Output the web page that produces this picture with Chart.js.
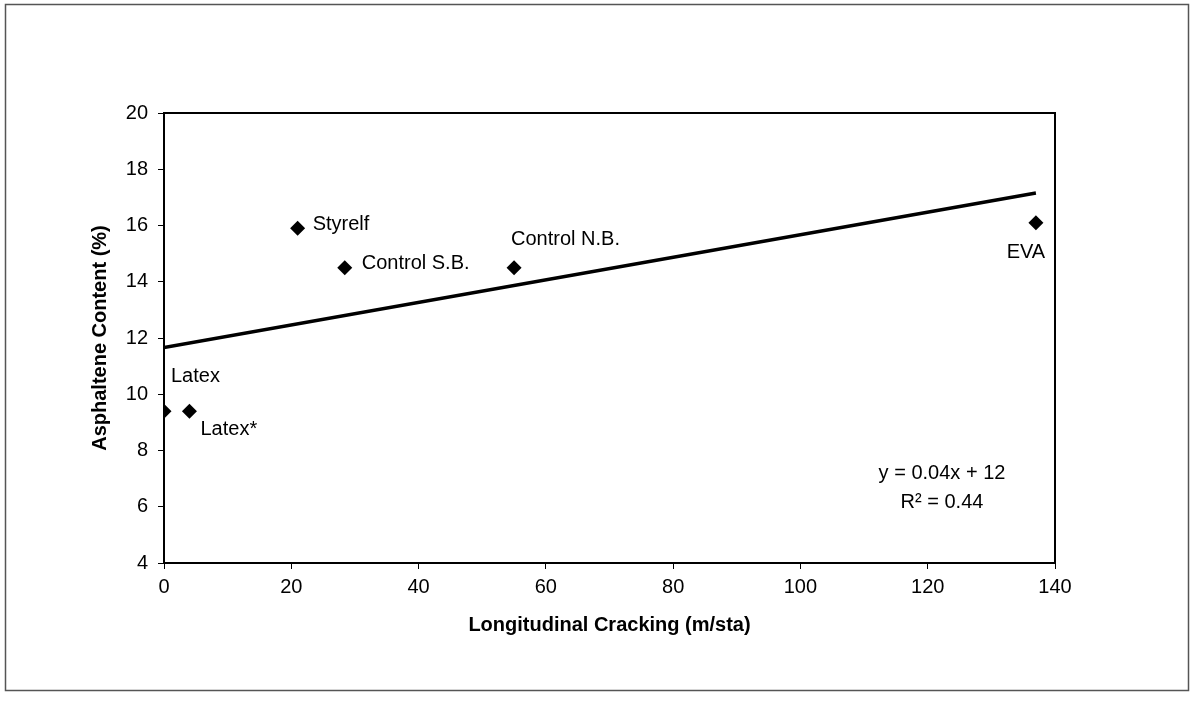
<!DOCTYPE html>
<html lang="en">
<head>
  <meta charset="UTF-8">
  <title>Asphaltene content vs longitudinal cracking</title>
  <style>
    html, body { margin: 0; padding: 0; background: #fff; }
    #wrap { width: 1194px; height: 704px; position: relative; }
  </style>
</head>
<body>
<div id="wrap"><canvas id="myChart" width="1194" height="704"></canvas></div>
<script src="https://cdn.jsdelivr.net/npm/chart.js"></script>
<script>
  // section names and measurements
  const sections = ['Latex', 'Latex*', 'Styrelf', 'Control S.B.', 'Control N.B.', 'EVA'];
  const cracking = [0, 4, 21, 28.4, 55, 137];          // m/sta
  const asphaltene = [9.4, 9.4, 15.9, 14.5, 14.5, 16.1]; // %
  const xTicks = [0, 20, 40, 60, 80, 100, 120, 140];
  const yTicks = [4, 6, 8, 10, 12, 14, 16, 18, 20];

  // where each section name sits relative to its marker
  const labelPos = [
    { dx: 7, dy: -35, align: 'left' },
    { dx: 11, dy: 18, align: 'left' },
    { dx: 15, dy: -4, align: 'left' },
    { dx: 17, dy: -4, align: 'left' },
    { dx: -3, dy: -28, align: 'left' },
    { dx: -10, dy: 30, align: 'center' }
  ];

  // least squares fit, same as the spreadsheet trendline
  const n = cracking.length;
  const mx = cracking.reduce((a, b) => a + b, 0) / n;
  const my = asphaltene.reduce((a, b) => a + b, 0) / n;
  let sxy = 0, sxx = 0, syy = 0;
  for (let i = 0; i < n; i++) {
    sxy += (cracking[i] - mx) * (asphaltene[i] - my);
    sxx += (cracking[i] - mx) ** 2;
    syy += (asphaltene[i] - my) ** 2;
  }
  const slope = sxy / sxx;
  const intercept = my - slope * mx;
  const r2 = (sxy * sxy) / (sxx * syy);
  const xMin = Math.min(...cracking), xMax = Math.max(...cracking);
  const trend = [
    { x: xMin, y: intercept + slope * xMin },
    { x: xMax, y: intercept + slope * xMax }
  ];

  const FONT = "'Liberation Sans', Arial, sans-serif";

  const decorations = {
    id: 'decorations',
    beforeDraw(chart) {
      const ctx = chart.ctx;
      ctx.save();
      ctx.fillStyle = '#fff';
      ctx.fillRect(0, 0, chart.width, chart.height);
      // outer frame
      ctx.strokeStyle = '#555';
      ctx.lineWidth = 1.5;
      ctx.strokeRect(5.5, 4.5, 1183, 686);
      ctx.restore();
    },
    afterDatasetsDraw(chart) {
      const ctx = chart.ctx;
      const a = chart.chartArea;
      const xs = chart.scales.x, ys = chart.scales.y;
      ctx.save();
      // plot box
      ctx.strokeStyle = '#000';
      ctx.lineWidth = 2;
      ctx.strokeRect(a.left, a.top, a.right - a.left, a.bottom - a.top);

      // section labels
      ctx.fillStyle = '#000';
      ctx.font = '20px ' + FONT;
      ctx.textBaseline = 'middle';
      sections.forEach((name, i) => {
        const px = xs.getPixelForValue(cracking[i]);
        const py = ys.getPixelForValue(asphaltene[i]);
        const p = labelPos[i];
        ctx.textAlign = p.align;
        ctx.fillText(name, px + p.dx, py + p.dy);
      });

      // trendline equation
      ctx.textAlign = 'center';
      ctx.fillText('y = ' + slope.toFixed(2) + 'x + ' + intercept.toFixed(0), 942, 473);
      ctx.fillText('R\u00B2 = ' + r2.toFixed(2), 942, 502);
      ctx.restore();
    }
  };

  const config = {
    type: 'scatter',
    data: {
      datasets: [
        {
          label: 'Asphaltene',
          data: cracking.map((x, i) => ({ x: x, y: asphaltene[i] })),
          pointStyle: 'rectRot',
          pointRadius: 7.5,
          backgroundColor: '#000',
          borderColor: '#000',
          borderWidth: 0,
          order: 1
        },
        {
          type: 'line',
          label: 'Linear',
          data: trend,
          borderColor: '#000',
          borderWidth: 3.5,
          pointRadius: 0,
          fill: false,
          order: 2
        }
      ]
    },
    options: {
      responsive: false,
      animation: false,
      layout: { padding: { top: 113, right: 139, bottom: 51, left: 0 } },
      plugins: { legend: { display: false }, tooltip: { enabled: false } },
      scales: {
        x: {
          type: 'linear',
          min: xTicks[0],
          max: xTicks[xTicks.length - 1],
          afterBuildTicks: s => { s.ticks = xTicks.map(v => ({ value: v })); },
          afterFit: s => { s.height = 90; },
          grid: { drawOnChartArea: false, drawTicks: true, tickLength: 6, color: '#000', lineWidth: 1 },
          border: { display: true, color: '#000', width: 2 },
          ticks: { color: '#000', padding: 6, font: { family: FONT, size: 20 } },
          title: {
            display: true,
            text: 'Longitudinal Cracking (m/sta)',
            color: '#000',
            font: { family: FONT, size: 20, weight: 'bold' },
            padding: { top: 0, bottom: 16 }
          }
        },
        y: {
          type: 'linear',
          min: yTicks[0],
          max: yTicks[yTicks.length - 1],
          afterBuildTicks: s => { s.ticks = yTicks.map(v => ({ value: v })); },
          afterFit: s => { s.width = 164; },
          grid: { drawOnChartArea: false, drawTicks: true, tickLength: 6, color: '#000', lineWidth: 1 },
          border: { display: true, color: '#000', width: 2 },
          ticks: { color: '#000', padding: 10, font: { family: FONT, size: 20 } },
          title: {
            display: true,
            text: 'Asphaltene Content (%)',
            color: '#000',
            font: { family: FONT, size: 20, weight: 'bold' },
            padding: { top: 88, bottom: 0 }
          }
        }
      }
    },
    plugins: [decorations]
  };

  new Chart(document.getElementById('myChart'), config);
</script>
</body>
</html>
